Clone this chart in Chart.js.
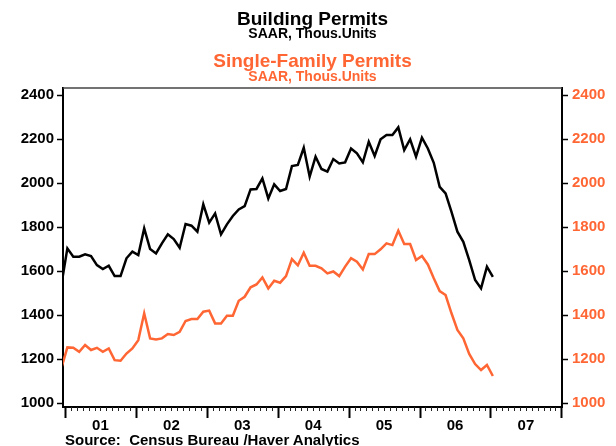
<!DOCTYPE html>
<html>
<head>
<meta charset="utf-8">
<script src="https://cdn.jsdelivr.net/npm/chart.js@4.4.1/dist/chart.umd.min.js"></script>
<style>
  html, body { margin: 0; padding: 0; background: #fff; }
  #wrap { position: relative; width: 616px; height: 446px; font-family: "Liberation Sans", Arial, sans-serif; }
  #wrap canvas { position: absolute; left: 0; top: 0; }
  .ttl { position: absolute; left: 63px; width: 499px; text-align: center; font-weight: bold; white-space: nowrap; }
  .big { font-size: 19px; line-height: 19px; }
  .small { font-size: 14px; line-height: 14px; }
  .orange { color: #ff6633; }
  #source { position: absolute; left: 65px; top: 432px; font-size: 15px; line-height: 15px; font-weight: bold; white-space: pre; }
</style>
</head>
<body>
<div id="wrap">
  <canvas id="permitChart" width="616" height="446"></canvas>
  <div class="ttl big" style="top:9px">Building Permits</div>
  <div class="ttl small" style="top:26px">SAAR, Thous.Units</div>
  <div class="ttl big orange" style="top:51px">Single-Family Permits</div>
  <div class="ttl small orange" style="top:69px">SAAR, Thous.Units</div>
  <div id="source">Source:  Census Bureau /Haver Analytics</div>
</div>
<script>
// monthly, Dec 2000 .. Jan 2007 (thous. units, SAAR)
const firstMonth = { year: 2000, month: 12 };

const totalPermits = [
    1540,
    1703, 1665, 1665, 1676, 1668, 1627, 1609, 1624, 1577, 1577, 1658, 1688,
    1673, 1794, 1700, 1680, 1726, 1767, 1745, 1706, 1814, 1806, 1779, 1903,
    1820, 1862, 1767, 1812, 1850, 1880, 1895, 1971, 1973, 2021, 1930, 1994,
    1964, 1973, 2077, 2082, 2160, 2029, 2120, 2064, 2052, 2109, 2089, 2094,
    2157, 2135, 2094, 2188, 2123, 2199, 2218, 2218, 2253, 2150, 2199, 2120,
    2206, 2157, 2092, 1983, 1953, 1869, 1779, 1733, 1650, 1559, 1521, 1620,
    1574
];

const singleFamily = [
    1160,
    1253, 1251, 1233, 1264, 1241, 1251, 1233, 1248, 1195, 1192, 1225, 1248,
    1286, 1408, 1294, 1289, 1294, 1314, 1309, 1324, 1373, 1382, 1382, 1415,
    1420, 1362, 1362, 1397, 1397, 1465, 1483, 1526, 1539, 1571, 1521, 1556,
    1547, 1577, 1654, 1626, 1683, 1624, 1624, 1612, 1589, 1598, 1577, 1620,
    1658, 1642, 1607, 1677, 1677, 1699, 1726, 1718, 1783, 1723, 1723, 1650,
    1668, 1630, 1567, 1509, 1491, 1408, 1332, 1294, 1223, 1177, 1150, 1173,
    1123
];

const yTicks = [1000, 1200, 1400, 1600, 1800, 2000, 2200, 2400];
const yearLabels = ['01', '02', '03', '04', '05', '06', '07'];

const ORANGE = '#ff6633';
const FONT = '"Liberation Sans", Arial, sans-serif';

Chart.defaults.font.family = FONT;
Chart.defaults.color = '#000';

// x = months since Jan 2001, plotted a bit into the month
const monthX = (i) => (firstMonth.year - 2001) * 12 + (firstMonth.month - 1) + i + 0.4;
const toPoints = (arr) => arr.map((v, i) => ({ x: monthX(i), y: v }));

const setYTicks = (scale) => { scale.ticks = yTicks.map(v => ({ value: v })); };

// frame + monthly / yearly tick marks on the time axis
const framePlugin = {
    id: 'frame',
    afterDraw(chart) {
        const { ctx, chartArea: a, scales } = chart;
        const x = scales.x;
        ctx.save();
        ctx.strokeStyle = '#444';
        ctx.lineWidth = 1.5;
        ctx.beginPath();
        ctx.moveTo(a.left, a.top);
        ctx.lineTo(a.right, a.top);
        ctx.stroke();

        for (let m = 0; m <= yearLabels.length * 12; m++) {
            const px = Math.round(x.getPixelForValue(m)) + 0.5;
            const major = m % 12 === 0;
            ctx.strokeStyle = major ? '#000' : '#222';
            ctx.lineWidth = major ? 2 : 1;
            ctx.beginPath();
            ctx.moveTo(px, a.bottom);
            ctx.lineTo(px, a.bottom + (major ? 11 : 4));
            ctx.stroke();
        }
        ctx.restore();
    }
};

new Chart(document.getElementById('permitChart'), {
    type: 'line',
    data: {
        datasets: [{
            label: 'Building Permits',
            data: toPoints(totalPermits),
            borderColor: '#000',
            borderWidth: 2.5,
            pointRadius: 0,
            tension: 0,
            clip: 0,
            yAxisID: 'y'
        }, {
            label: 'Single-Family Permits',
            data: toPoints(singleFamily),
            borderColor: ORANGE,
            borderWidth: 2.5,
            pointRadius: 0,
            tension: 0,
            clip: 0,
            yAxisID: 'y2'
        }]
    },
    options: {
        responsive: false,
        animation: false,
        layout: { padding: { top: 88, left: 0, right: 0, bottom: 0 } },
        plugins: {
            legend: { display: false },
            tooltip: { enabled: false }
        },
        scales: {
            x: {
                type: 'linear',
                min: -0.34,
                max: 84.1,
                grid: { display: false, drawTicks: false },
                border: { display: true, color: '#000', width: 2 },
                afterBuildTicks: (scale) => {
                    scale.ticks = yearLabels.map((l, k) => ({ value: k * 12 + 6 }));
                },
                afterFit: (scale) => { scale.height = 39; },
                ticks: {
                    autoSkip: false,
                    maxRotation: 0,
                    padding: 10,
                    font: { size: 15, weight: 'bold' },
                    callback: (v, idx) => yearLabels[idx]
                }
            },
            y: {
                position: 'left',
                min: 982,
                max: 2432,
                afterBuildTicks: setYTicks,
                afterFit: (scale) => { scale.width = 63; },
                grid: { drawOnChartArea: false, tickLength: 6, tickColor: '#000', tickWidth: 1.5 },
                border: { display: true, color: '#000', width: 2 },
                ticks: {
                    padding: 3,
                    font: { size: 15, weight: 'bold' },
                    color: '#000',
                    callback: (v) => String(v)
                }
            },
            y2: {
                position: 'right',
                min: 982,
                max: 2432,
                afterBuildTicks: setYTicks,
                afterFit: (scale) => { scale.width = 54; },
                grid: { drawOnChartArea: false, tickLength: 6, tickColor: '#000', tickWidth: 1.5 },
                border: { display: true, color: '#000', width: 2 },
                ticks: {
                    padding: 4,
                    font: { size: 15, weight: 'bold' },
                    color: ORANGE,
                    callback: (v) => String(v)
                }
            }
        }
    },
    plugins: [framePlugin]
});
</script>
</body>
</html>
